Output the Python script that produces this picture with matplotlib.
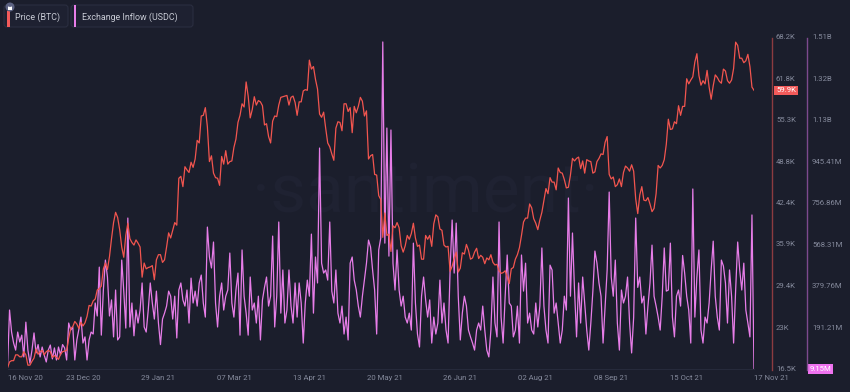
import pandas as pd
import matplotlib
matplotlib.use("Agg")
import matplotlib.pyplot as plt
import matplotlib.transforms as mtransforms
from matplotlib.patches import FancyBboxPatch, Rectangle, Circle, Arc
from matplotlib.lines import Line2D

plt.rcParams['font.family'] = ['Roboto', 'DejaVu Sans']

# daily data, 16 Nov 2020 -> 17 Nov 2021
dates = pd.date_range('2020-11-16', '2021-11-17', freq='D')

# BTC price (thousand USD), by month
btc_nov20 = [16.7, 17.6, 17.8, 17.8, 18.7, 18.7, 18.4, 18.4, 19.2, 18.7, 17.1, 17.1, 17.7, 18.2, 19.6]
btc_dec20 = [18.8, 19.2, 19.4, 18.7, 19.2, 19.4, 19.2, 18.3, 18.6, 18.3, 18.0, 18.8, 19.2, 19.3, 19.4, 21.3,
             22.8, 23.1, 23.9, 23.5, 22.8, 23.8, 23.2, 23.7, 24.7, 26.4, 26.3, 27.1, 27.4, 28.8, 29.0]
btc_jan21 = [29.4, 32.1, 33.0, 32.0, 34.0, 36.8, 39.3, 40.9, 40.1, 38.2, 35.5, 33.9, 37.3, 39.2, 36.8, 36.2,
             35.8, 36.6, 36.1, 35.5, 30.8, 33.0, 32.1, 32.3, 32.4, 32.6, 30.4, 33.5, 34.3, 34.3, 33.1]
btc_feb21 = [33.5, 35.5, 37.7, 36.9, 38.1, 39.3, 38.9, 46.2, 46.5, 44.9, 48.0, 47.5, 47.1, 48.7, 47.9, 49.2,
             52.1, 51.7, 55.9, 56.0, 57.2, 54.2, 48.8, 49.7, 47.0, 46.3, 46.2, 45.1]
btc_mar21 = [49.6, 48.4, 50.5, 48.4, 48.8, 48.9, 51.0, 52.3, 54.9, 56.0, 57.8, 57.3, 61.2, 59.0, 55.6, 56.9,
             58.9, 57.6, 58.3, 58.1, 57.5, 54.5, 54.7, 52.7, 51.7, 55.1, 55.9, 55.8, 57.6, 58.8, 58.9]
btc_apr21 = [59.0, 59.1, 57.6, 58.8, 59.0, 58.0, 56.0, 58.1, 58.1, 59.8, 60.0, 59.9, 64.6, 63.2, 63.6, 61.6,
             60.1, 56.2, 55.7, 56.5, 54.0, 51.7, 51.1, 50.0, 49.0, 54.0, 55.0, 54.9, 53.6, 57.8]
btc_may21 = [57.8, 56.6, 57.2, 53.3, 57.4, 56.4, 57.4, 58.8, 58.2, 55.9, 56.7, 49.2, 49.7, 49.9, 46.8, 46.7,
             43.5, 42.9, 37.0, 40.8, 37.3, 37.5, 34.8, 38.8, 38.5, 39.3, 38.5, 35.7, 34.7, 35.7, 37.3]
btc_jun21 = [36.7, 37.6, 39.2, 36.9, 35.6, 35.8, 33.6, 33.6, 37.3, 36.7, 37.3, 35.6, 39.1, 40.5, 40.2, 38.3,
             38.1, 35.8, 35.5, 35.6, 31.7, 32.5, 33.7, 34.7, 31.6, 32.2, 34.6, 34.4, 35.9, 35.0]
btc_jul21 = [33.6, 33.8, 34.7, 35.3, 33.7, 34.2, 33.9, 32.9, 33.8, 33.5, 34.3, 33.1, 32.7, 32.8, 31.8, 31.4,
             31.5, 31.8, 30.8, 29.8, 32.1, 32.3, 33.6, 34.3, 35.4, 37.3, 39.4, 40.0, 40.0, 42.2, 41.6]
btc_aug21 = [39.9, 39.2, 38.2, 39.7, 40.9, 42.8, 44.6, 43.8, 46.3, 45.6, 45.6, 44.4, 47.8, 47.1, 47.0, 46.0,
             44.7, 44.8, 46.7, 49.3, 48.9, 49.3, 49.5, 47.7, 48.9, 47.0, 49.1, 48.9, 48.8, 47.0, 47.2]
btc_sep21 = [48.8, 49.3, 50.0, 49.9, 51.8, 52.7, 46.8, 46.1, 46.4, 44.9, 45.2, 46.1, 44.9, 47.1, 48.1, 47.8,
             47.3, 48.3, 47.3, 43.0, 40.7, 43.6, 44.9, 42.8, 42.7, 43.2, 42.2, 41.0, 41.5, 43.8]
btc_oct21 = [48.2, 47.8, 48.2, 49.1, 51.5, 55.4, 53.8, 53.9, 55.0, 54.7, 57.5, 56.0, 57.4, 57.4, 61.7, 60.9,
             61.5, 62.0, 64.3, 65.6, 62.2, 60.7, 61.4, 60.9, 63.0, 60.4, 58.5, 60.6, 62.3, 61.9, 61.3]
btc_nov21 = [61.0, 63.2, 62.9, 61.4, 61.0, 61.5, 63.3, 67.4, 66.9, 64.9, 64.9, 64.2, 64.5, 65.5, 63.6, 60.4, 59.9]

price_btc = (btc_nov20 + btc_dec20 + btc_jan21 + btc_feb21 + btc_mar21 + btc_apr21 + btc_may21
             + btc_jun21 + btc_jul21 + btc_aug21 + btc_sep21 + btc_oct21 + btc_nov21)

# USDC exchange inflow (million USD), daily
usdc_inflow = [
    18, 277, 177, 127, 95, 177, 132, 163, 64, 222, 95, 36, 95, 173, 82, 120, 64, 109, 73, 41,
    95, 118, 55, 105, 50, 109, 73, 120, 105, 50, 218, 186, 200, 50, 141, 190, 245, 127, 155, 50,
    141, 177, 168, 309, 250, 472, 163, 368, 504, 427, 250, 323, 155, 368, 141, 155, 504, 363, 195, 695,
    200, 309, 160, 277, 218, 277, 400, 200, 177, 277, 400, 309, 236, 363, 218, 120, 236, 263, 295, 363,
    340, 236, 340, 150, 368, 400, 323, 295, 368, 218, 422, 309, 363, 295, 400, 436, 309, 245, 654, 518,
    468, 586, 309, 200, 340, 400, 277, 340, 368, 536, 309, 245, 368, 445, 163, 550, 340, 263, 163, 427,
    277, 309, 218, 340, 141, 323, 380, 427, 295, 340, 613, 200, 340, 677, 263, 459, 218, 277, 459, 295,
    218, 400, 245, 400, 309, 127, 309, 413, 340, 622, 263, 518, 400, 1013, 490, 445, 459, 413, 677, 363,
    309, 459, 263, 218, 295, 168, 245, 141, 490, 518, 413, 368, 295, 245, 340, 413, 490, 595, 563, 459,
    368, 168, 550, 604, 1495, 581, 1104, 522, 1095, 490, 368, 550, 368, 295, 340, 245, 218, 263, 186, 581,
    309, 168, 109, 340, 427, 323, 245, 323, 127, 245, 168, 218, 413, 218, 309, 186, 127, 459, 686, 445,
    672, 340, 141, 263, 340, 295, 186, 155, 127, 95, 186, 218, 186, 295, 186, 95, 64, 186, 427, 218,
    155, 677, 245, 127, 340, 527, 309, 295, 155, 186, 295, 127, 527, 363, 490, 218, 263, 186, 168, 309,
    200, 295, 559, 295, 186, 127, 481, 459, 263, 309, 218, 127, 186, 340, 277, 786, 340, 627, 368, 155,
    400, 218, 427, 309, 186, 95, 218, 363, 545, 490, 400, 340, 127, 295, 459, 813, 427, 340, 504, 218,
    95, 368, 309, 340, 427, 218, 82, 245, 695, 380, 427, 309, 340, 168, 295, 400, 572, 340, 295, 245,
    186, 340, 559, 363, 368, 581, 245, 155, 340, 368, 295, 525, 445, 340, 277, 127, 827, 245, 427, 550,
    186, 127, 245, 218, 309, 459, 590, 340, 245, 186, 504, 477, 400, 218, 459, 340, 127, 368, 586, 459,
    368, 490, 277, 218, 155, 709, 9.15,
]

tick_dates = ['2020-11-16', '2020-12-23', '2021-01-29', '2021-03-07', '2021-04-13', '2021-05-20',
              '2021-06-26', '2021-08-02', '2021-09-08', '2021-10-15', '2021-11-17']
tick_labels = ['16 Nov 20', '23 Dec 20', '29 Jan 21', '07 Mar 21', '13 Apr 21', '20 May 21',
               '26 Jun 21', '02 Aug 21', '08 Sep 21', '15 Oct 21', '17 Nov 21']

price_min, price_max = 16.5, 68.2
price_labels = ['16.5K', '23K', '29.4K', '35.9K', '42.4K', '48.8K', '55.3K', '61.8K', '68.2K']
flow_min, flow_step = 9.15, 188.55
flow_labels = ['9.15M', '191.21M', '379.76M', '568.31M', '756.86M', '945.41M', '1.13B', '1.32B', '1.51B']

BG = '#1b1e2c'
RED = '#f2554f'
PINK = '#e77de8'
GREY = '#858a9c'
W, H = 850, 392

fig = plt.figure(figsize=(W / 100, H / 100), dpi=100)
fig.patch.set_facecolor(BG)

ax = fig.add_axes([7.5 / W, 1 - 369 / H, (754 - 7.5) / W, 332 / H])
ax.set_facecolor(BG)
ax2 = ax.twinx()
ax2.patch.set_visible(False)

# watermark
ax.text(0.56, 0.53, '\u00b7santiment\u00b7', transform=ax.transAxes, ha='center', va='center',
        fontsize=50, color='#1f2232', zorder=0)

flow_max = flow_min + 8 * flow_step
ax.plot(dates, usdc_inflow, color=PINK, lw=0.9, zorder=2)
ax.set_ylim(flow_min, flow_max)
ax2.plot(dates, price_btc, color=RED, lw=0.9, zorder=3)
ax2.set_ylim(price_min, price_max)
ax.set_xlim(dates[0], dates[-1])

for a in (ax, ax2):
    for s in a.spines.values():
        s.set_visible(False)
    a.set_yticks([])
ax.spines['bottom'].set_visible(True)
ax.spines['bottom'].set_color('#262a3b')
ax.spines['bottom'].set_linewidth(0.8)

ax.set_xticks(pd.to_datetime(tick_dates))
ax.set_xticklabels(tick_labels)
ax.tick_params(axis='x', length=0, labelsize=5.6, colors=GREY, pad=4)
xt = ax.get_xticklabels()
xt[0].set_ha('left')
xt[-1].set_ha('left')

# right-hand scales
tr_price = mtransforms.blended_transform_factory(fig.transFigure, ax2.transData)
tr_flow = mtransforms.blended_transform_factory(fig.transFigure, ax.transData)
price_vals = [price_min + i * (price_max - price_min) / 8 for i in range(9)]
flow_vals = [flow_min + i * flow_step for i in range(9)]
for v, lab in zip(price_vals, price_labels):
    ax2.text(776 / W, v, lab, transform=tr_price, ha='left', va='center', fontsize=5.6,
             color=GREY, clip_on=False)
for v, lab in zip(flow_vals[1:], flow_labels[1:]):
    ax2.text(812 / W, v, lab, transform=tr_flow, ha='left', va='center', fontsize=5.6,
             color=GREY, clip_on=False)

fig.add_artist(Line2D([772 / W, 772 / W], [1 - 38 / H, 1 - 370 / H], color='#8c3b40', lw=1.0))
fig.add_artist(Line2D([807 / W, 807 / W], [1 - 38 / H, 1 - 370 / H], color='#7d4a8e', lw=1.0))

# last value badges
ax2.text(776 / W, price_btc[-1], '%.1fK' % price_btc[-1], transform=tr_price, ha='left', va='center',
         fontsize=5.6, color='white', clip_on=False,
         bbox=dict(boxstyle='square,pad=0.2', fc='#f25a5a', ec='none'))
ax2.text(810 / W, usdc_inflow[-1], flow_labels[0], transform=tr_flow, ha='left', va='center',
         fontsize=5.6, color='white', clip_on=False,
         bbox=dict(boxstyle='square,pad=0.2', fc='#ef72ef', ec='none'))

# legend in pixel coordinates
ov = fig.add_axes([0, 0, 1, 1])
ov.set_xlim(0, W)
ov.set_ylim(H, 0)
ov.axis('off')
ov.patch.set_visible(False)

ov.add_patch(FancyBboxPatch((4, 5), 64, 22, boxstyle='round,pad=0,rounding_size=3',
                            fc='#1e2131', ec='#2a2e40', lw=0.8))
ov.add_patch(FancyBboxPatch((71, 5), 122, 22, boxstyle='round,pad=0,rounding_size=3',
                            fc='#1e2131', ec='#2a2e40', lw=0.8))
ov.add_patch(Rectangle((7.5, 11), 2.5, 16, fc='#f25a5a', ec='none'))
ov.add_patch(Rectangle((74, 5), 2.5, 22, fc=PINK, ec='none'))
ov.add_patch(Circle((10, 7), 4.5, fc='#5c6282', ec='none'))
ov.add_patch(Rectangle((8, 6.5), 4, 3, fc='white', ec='none'))
ov.add_patch(Arc((10, 6.5), 2.6, 3.4, theta1=0, theta2=180, color='white', lw=0.8))
ov.text(15, 17, 'Price (BTC)', fontsize=6.4, color='#c9ccd6', ha='left', va='center')
ov.text(82, 17, 'Exchange Inflow (USDC)', fontsize=6.4, color='#c9ccd6', ha='left', va='center')

fig.savefig('out.png', dpi=100, facecolor=BG)
